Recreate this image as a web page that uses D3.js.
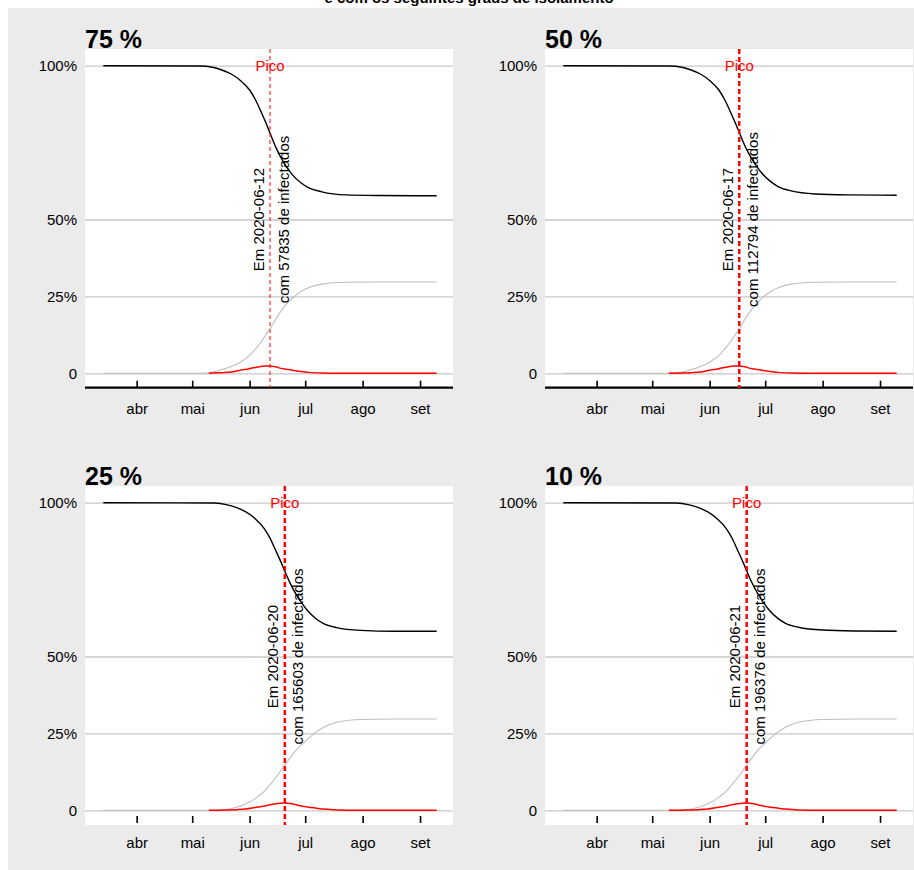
<!DOCTYPE html>
<html><head><meta charset="utf-8">
<script src="https://cdn.jsdelivr.net/npm/d3@7"></script>
<style>
body{margin:0;background:#fff}
svg{display:block}
text{font-family:"Liberation Sans",Arial,Helvetica,sans-serif}
</style>
</head><body>
<svg id="chart" width="914" height="870"></svg>
<script>
// ---------------- data ----------------
const mainTitle = "e com os seguintes graus de isolamento";
const panelTitles = ["75 %", "50 %", "25 %", "10 %"];
const peakDates = ["2020-06-12", "2020-06-17", "2020-06-20", "2020-06-21"];
const peakInfected = [57835, 112794, 165603, 196376];
const peakLabel = "Pico";
const monthLabels = ["abr", "mai", "jun", "jul", "ago", "set"];
const yTickValues = [0, 0.25, 0.5, 1];
const yTickLabels = ["0", "25%", "50%", "100%"];

// susceptible (black) and recovered (grey) curves
const dates1 = ["2020-03-14","2020-05-05","2020-05-12","2020-05-17","2020-05-22","2020-05-27","2020-06-01","2020-06-04","2020-06-07","2020-06-10","2020-06-12","2020-06-15","2020-06-18","2020-06-21","2020-06-24","2020-06-29","2020-07-03","2020-07-10","2020-07-23","2020-08-10","2020-09-10"];
const dates2 = ["2020-03-14","2020-05-10","2020-05-17","2020-05-22","2020-05-27","2020-06-01","2020-06-06","2020-06-09","2020-06-12","2020-06-15","2020-06-17","2020-06-20","2020-06-23","2020-06-26","2020-06-29","2020-07-04","2020-07-08","2020-07-15","2020-07-28","2020-08-15","2020-09-10"];
const dates3 = ["2020-03-14","2020-05-13","2020-05-20","2020-05-25","2020-05-30","2020-06-04","2020-06-09","2020-06-12","2020-06-15","2020-06-18","2020-06-20","2020-06-23","2020-06-26","2020-06-29","2020-07-02","2020-07-07","2020-07-11","2020-07-18","2020-07-31","2020-08-18","2020-09-10"];
const dates4 = ["2020-03-14","2020-05-14","2020-05-21","2020-05-26","2020-05-31","2020-06-05","2020-06-10","2020-06-13","2020-06-16","2020-06-19","2020-06-21","2020-06-24","2020-06-27","2020-06-30","2020-07-03","2020-07-08","2020-07-12","2020-07-19","2020-08-01","2020-08-19","2020-09-10"];

const susc1 = [1.000,0.999,0.995,0.986,0.973,0.952,0.921,0.891,0.853,0.811,0.781,0.737,0.700,0.670,0.646,0.618,0.603,0.590,0.580,0.578,0.577];
const susc2 = [1.000,0.999,0.995,0.986,0.973,0.952,0.921,0.891,0.853,0.812,0.783,0.740,0.705,0.676,0.652,0.623,0.607,0.593,0.583,0.580,0.579];
const susc3 = [1.000,0.999,0.993,0.984,0.970,0.948,0.915,0.885,0.846,0.806,0.777,0.737,0.703,0.675,0.651,0.622,0.607,0.594,0.585,0.582,0.582];
const susc4 = [1.000,0.999,0.993,0.984,0.970,0.948,0.916,0.886,0.847,0.807,0.778,0.738,0.704,0.676,0.652,0.623,0.608,0.595,0.586,0.583,0.582];

const recov1 = [0,0,0.004,0.012,0.022,0.036,0.058,0.078,0.100,0.127,0.145,0.175,0.203,0.226,0.244,0.267,0.279,0.290,0.296,0.297,0.297];
const recov2 = [0,0,0.004,0.012,0.022,0.036,0.058,0.078,0.100,0.127,0.145,0.175,0.202,0.225,0.243,0.266,0.278,0.290,0.296,0.297,0.297];
const recov3 = [0,0,0.003,0.010,0.021,0.038,0.062,0.083,0.105,0.130,0.147,0.172,0.195,0.213,0.230,0.255,0.270,0.286,0.295,0.297,0.297];
const recov4 = [0,0,0.003,0.010,0.021,0.038,0.062,0.083,0.105,0.130,0.147,0.172,0.195,0.213,0.230,0.255,0.270,0.286,0.295,0.297,0.297];

// infected (red) curves
const idates1 = ["2020-05-10","2020-05-12","2020-05-17","2020-05-22","2020-05-27","2020-06-01","2020-06-04","2020-06-07","2020-06-10","2020-06-12","2020-06-15","2020-06-18","2020-06-21","2020-06-24","2020-06-29","2020-07-03","2020-07-10","2020-07-23","2020-08-10","2020-09-10"];
const idates2 = ["2020-05-10","2020-05-17","2020-05-22","2020-05-27","2020-06-01","2020-06-06","2020-06-09","2020-06-12","2020-06-15","2020-06-17","2020-06-20","2020-06-23","2020-06-26","2020-06-29","2020-07-04","2020-07-08","2020-07-15","2020-07-28","2020-08-15","2020-09-10"];
const idates3 = ["2020-05-10","2020-05-13","2020-05-20","2020-05-25","2020-05-30","2020-06-04","2020-06-09","2020-06-12","2020-06-15","2020-06-18","2020-06-20","2020-06-23","2020-06-26","2020-06-29","2020-07-02","2020-07-07","2020-07-11","2020-07-18","2020-07-31","2020-08-18","2020-09-10"];
const idates4 = ["2020-05-10","2020-05-14","2020-05-21","2020-05-26","2020-05-31","2020-06-05","2020-06-10","2020-06-13","2020-06-16","2020-06-19","2020-06-21","2020-06-24","2020-06-27","2020-06-30","2020-07-03","2020-07-08","2020-07-12","2020-07-19","2020-08-01","2020-08-19","2020-09-10"];

const infec1 = [0,0.001,0.002,0.004,0.010,0.015,0.019,0.022,0.024,0.024,0.021,0.016,0.013,0.010,0.006,0.003,0.001,0,0,0];
const infec2 = [0,0.001,0.002,0.004,0.010,0.015,0.019,0.022,0.024,0.024,0.021,0.016,0.013,0.010,0.006,0.003,0.001,0,0,0];
const infec3 = [0,0,0.001,0.002,0.004,0.009,0.014,0.018,0.021,0.023,0.024,0.022,0.018,0.014,0.011,0.007,0.004,0.001,0,0,0];
const infec4 = [0,0,0.001,0.002,0.004,0.009,0.014,0.018,0.021,0.023,0.024,0.022,0.018,0.014,0.011,0.007,0.004,0.001,0,0,0];

// ---------------- layout ----------------
const parse = d3.timeParse("%Y-%m-%d");
const W = 368, H = 339;
const origins = [[85, 49], [545, 49], [85, 486], [545, 486]];
const zip = (ds, vs) => ds.map((d, i) => ({date: parse(d), v: vs[i]}));
const panels = [
  {S: zip(dates1, susc1), R: zip(dates1, recov1), I: zip(idates1, infec1)},
  {S: zip(dates2, susc2), R: zip(dates2, recov2), I: zip(idates2, infec2)},
  {S: zip(dates3, susc3), R: zip(dates3, recov3), I: zip(idates3, infec3)},
  {S: zip(dates4, susc4), R: zip(dates4, recov4), I: zip(idates4, infec4)}
];

const svg = d3.select("#chart");
svg.append("rect").attr("x", 0).attr("y", 0).attr("width", 914).attr("height", 870).attr("fill", "#fff");
svg.append("rect").attr("x", 8).attr("y", 8).attr("width", 906).attr("height", 862).attr("fill", "#ebebeb");
svg.append("text").attr("x", 469).attr("y", 3).attr("text-anchor", "middle")
  .attr("font-size", 15).attr("font-weight", "bold").attr("fill", "#000").text(mainTitle);

const x = d3.scaleTime().domain([parse("2020-03-14"), parse("2020-09-10")]).range([18.3, 351.7]);
const y = d3.scaleLinear().domain([0, 1]).range([324.3, 16.7]);
const monthTicks = d3.timeMonth.range(parse("2020-04-01"), parse("2020-09-02"));
const line = d3.line().x(d => x(d.date)).y(d => y(d.v)).curve(d3.curveMonotoneX);

panels.forEach((p, i) => {
  const [ox, oy] = origins[i];
  const top = i < 2;
  const g = svg.append("g").attr("transform", `translate(${ox},${oy})`);
  g.append("rect").attr("width", W).attr("height", H).attr("fill", "#fff");

  // title
  g.append("text").attr("x", 0).attr("y", -1).attr("font-size", 25).attr("font-weight", "bold")
    .attr("fill", "#000").text(panelTitles[i]);

  // y axis + gridlines
  const ya = d3.axisLeft(y).tickValues(yTickValues)
    .tickFormat((d, k) => yTickLabels[k]).tickSizeInner(-W).tickSizeOuter(0).tickPadding(8);
  const yg = g.append("g").call(ya);
  yg.select(".domain").remove();
  yg.selectAll(".tick line").attr("stroke", "#c8c8c8").attr("stroke-width", 1.3);
  yg.selectAll(".tick text").attr("font-size", 15).attr("fill", "#000")
    .attr("font-family", '"Liberation Sans",Arial,sans-serif');

  // x axis
  const axisY = top ? 338.7 : 337;
  const xa = d3.axisBottom(x).tickValues(monthTicks).tickFormat((d, k) => monthLabels[k])
    .tickSizeInner(-7).tickSizeOuter(0).tickPadding(top ? 15.4 : 14.6);
  const xg = g.append("g").attr("transform", `translate(0,${axisY})`).call(xa);
  xg.select(".domain").remove();
  xg.selectAll(".tick line").attr("stroke", "#000").attr("stroke-width", 1.6);
  xg.selectAll(".tick text").attr("font-size", 15).attr("fill", "#000")
    .attr("font-family", '"Liberation Sans",Arial,sans-serif');
  if (top) {
    g.append("line").attr("x1", 0).attr("x2", W).attr("y1", axisY).attr("y2", axisY)
      .attr("stroke", "#000").attr("stroke-width", 2.2);
  }

  // curves
  g.append("path").datum(p.R).attr("d", line).attr("fill", "none").attr("stroke", "#bebebe").attr("stroke-width", 1.1);
  g.append("path").datum(p.I).attr("d", line).attr("fill", "none").attr("stroke", "#ff0000").attr("stroke-width", 1.5);
  g.append("path").datum(p.S).attr("d", line).attr("fill", "none").attr("stroke", "#000").attr("stroke-width", 1.4);

  // peak vertical line
  const px = x(parse(peakDates[i]));
  g.append("line").attr("x1", px).attr("x2", px).attr("y1", 0).attr("y2", H)
    .attr("stroke", "#ff0000")
    .attr("stroke-width", i === 0 ? 1 : 2.5)
    .attr("stroke-dasharray", i === 0 ? "4,3" : "5,3");

  g.append("text").attr("x", px).attr("y", y(1)).attr("text-anchor", "middle")
    .attr("dominant-baseline", "central").attr("font-size", 15).attr("fill", "#ff0000").text(peakLabel);

  g.append("text").attr("transform", `translate(${px - 12},${y(0.5)}) rotate(-90)`)
    .attr("text-anchor", "middle").attr("dominant-baseline", "central")
    .attr("font-size", 15).attr("fill", "#000").text("Em " + peakDates[i]);
  g.append("text").attr("transform", `translate(${px + 13},${y(0.5)}) rotate(-90)`)
    .attr("text-anchor", "middle").attr("dominant-baseline", "central")
    .attr("font-size", 15).attr("fill", "#000").text("com " + peakInfected[i] + " de infectados");
});
</script>
</body></html>
